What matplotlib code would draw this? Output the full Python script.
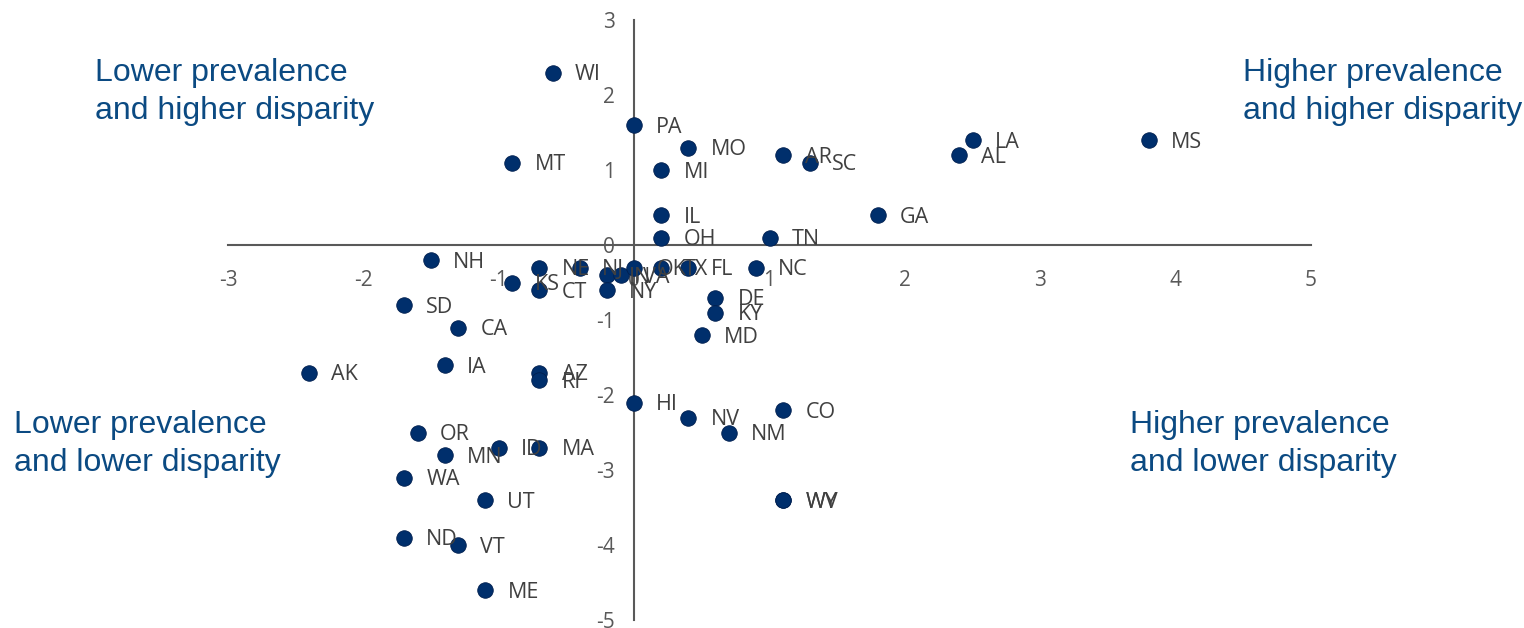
import matplotlib
matplotlib.use("Agg")
import matplotlib.pyplot as plt

states = ["WI", "PA", "MO", "MT", "MI", "AR", "SC", "LA", "AL", "MS",
          "IL", "GA", "OH", "TN", "NH", "NE", "NJ", "IN", "VA", "OK",
          "TX", "FL", "NC", "KS", "CT", "NY", "DE", "KY", "MD", "SD",
          "CA", "AK", "IA", "AZ", "RI", "HI", "NV", "NM", "CO", "OR",
          "ID", "MA", "MN", "WA", "UT", "WY", "WV", "ND", "VT", "ME"]
prevalence = [-0.6, 0.0, 0.4, -0.9, 0.2, 1.1, 1.3, 2.5, 2.4, 3.8,
              0.2, 1.8, 0.2, 1.0, -1.5, -0.7, -0.4, -0.2, -0.1, 0.0,
              0.2, 0.4, 0.9, -0.9, -0.7, -0.2, 0.6, 0.6, 0.5, -1.7,
              -1.3, -2.4, -1.4, -0.7, -0.7, 0.0, 0.4, 0.7, 1.1, -1.6,
              -1.0, -0.7, -1.4, -1.7, -1.1, 1.1, 1.1, -1.7, -1.3, -1.1]
disparity = [2.3, 1.6, 1.3, 1.1, 1.0, 1.2, 1.1, 1.4, 1.2, 1.4,
             0.4, 0.4, 0.1, 0.1, -0.2, -0.3, -0.3, -0.4, -0.4, -0.3,
             -0.3, -0.3, -0.3, -0.5, -0.6, -0.6, -0.7, -0.9, -1.2, -0.8,
             -1.1, -1.7, -1.6, -1.7, -1.8, -2.1, -2.3, -2.5, -2.2, -2.5,
             -2.7, -2.7, -2.8, -3.1, -3.4, -3.4, -3.4, -3.9, -4.0, -4.6]
x_ticks = [-3, -2, -1, 0, 1, 2, 3, 4, 5]
y_ticks = [3, 2, 1, 0, -1, -2, -3, -4, -5]
quadrant_texts = ["Lower prevalence\nand higher disparity",
                  "Higher prevalence\nand higher disparity",
                  "Lower prevalence\nand lower disparity",
                  "Higher prevalence\nand lower disparity"]

W, H = 1524, 628
fig = plt.figure(figsize=(W / 100, H / 100), dpi=100)
ax = fig.add_axes([228 / W, 8 / H, (1311 - 228) / W, 600 / H])

axis_col = "#595959"
label_col = "#404040"
dot_col = "#002F6C"

ax.spines["left"].set_position(("data", 0))
ax.spines["bottom"].set_position(("data", 0))
ax.spines["right"].set_visible(False)
ax.spines["top"].set_visible(False)
for sp in ("left", "bottom"):
    ax.spines[sp].set_color(axis_col)
    ax.spines[sp].set_linewidth(1.5)

ax.scatter(prevalence, disparity, s=125, color=dot_col, edgecolor="#001F4F",
           linewidth=0.6, zorder=3)
for s, x, y in zip(states, prevalence, disparity):
    ax.annotate(s, (x, y), xytext=(16, -1.5), textcoords="offset points",
                ha="left", va="center", fontsize=15.5, color=label_col,
                family="Open Sans", zorder=4)

ax.set_xlim(-3, 5)
ax.set_ylim(-5, 3)
ax.set_xticks(x_ticks)
ax.set_yticks(y_ticks)
ax.set_xticklabels([str(t) for t in x_ticks], family="Open Sans", fontsize=15, color=axis_col)
ax.set_yticklabels([str(t) for t in y_ticks], family="Open Sans", fontsize=15, color=axis_col)
ax.tick_params(axis="x", length=0, pad=18)
ax.tick_params(axis="y", length=0, pad=14)
ax.patch.set_visible(False)

qcol = "#0B4A82"
pos = [(95, 92), (1243, 92), (14, 444), (1130, 444)]
for t, (px, py) in zip(quadrant_texts, pos):
    fig.text(px / W, 1 - py / H, t, ha="left", va="center", fontsize=23,
             color=qcol, family="Liberation Sans", linespacing=1.38)

fig.savefig("out.png", dpi=100)
